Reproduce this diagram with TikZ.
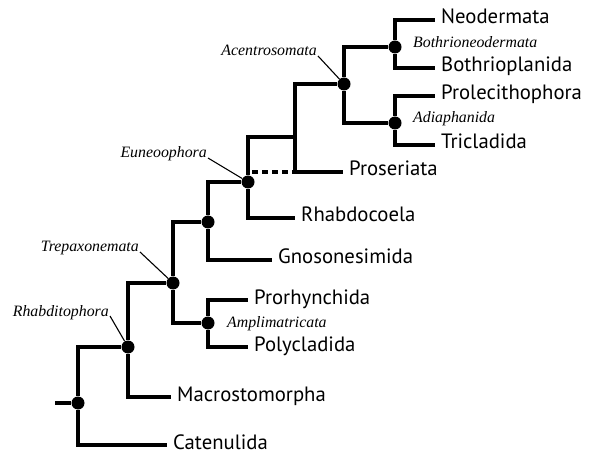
\documentclass[tikz,border=0pt]{standalone}
\usepackage{fontspec}
\setmainfont{Liberation Serif}
\setsansfont{PT Sans}
\begin{document}
\begin{tikzpicture}[x=1bp,y=-1bp,
  branch/.style={line width=3.5bp},
  dashbranch/.style={line width=3.5bp,dash pattern=on 6bp off 4bp},
  leader/.style={line width=1.1bp},
  dot/.style={circle,fill,inner sep=0pt,minimum size=13bp},
  leaf/.style={anchor=west,inner xsep=6bp,inner ysep=0pt,text height=10bp,text depth=2bp,
    font=\sffamily\fontsize{20.8}{20.8}\selectfont},
  clade/.style={inner sep=1bp,font=\itshape\fontsize{15.9}{15.9}\selectfont}]
  \useasboundingbox (0,0) rectangle (595,452);
  \coordinate (stem) at (55,403);
  \node[dot] (root) at (78,403) {};
  \node[dot] (rhab) at (128,347) {};
  \node[dot] (trep) at (173,283) {};
  \node[dot] (ampl) at (208,323) {};
  \node[dot] (rhgn) at (208,222) {};
  \node[dot] (eune) at (248,182) {};
  \coordinate (prac) at (295,137);
  \node[dot] (acen) at (344,84) {};
  \node[dot] (both) at (395,47) {};
  \node[dot] (adia) at (395,123) {};
  \node[leaf] (cate) at (167,445) {Catenulida};
  \node[leaf] (macr) at (171,397) {Macrostomorpha};
  \node[leaf] (pror) at (248,300) {Prorhynchida};
  \node[leaf] (poly) at (248,347) {Polycladida};
  \node[leaf] (gnos) at (272,260) {Gnosonesimida};
  \node[leaf] (rhbd) at (295,218) {Rhabdocoela};
  \node[leaf] (pros) at (343,172) {Proseriata};
  \node[leaf] (neod) at (435,20) {Neodermata};
  \node[leaf] (btpl) at (435,68) {Bothrioplanida};
  \node[leaf] (prol) at (435,96) {Prolecithophora};
  \node[leaf] (tric) at (435,145) {Tricladida};
  \draw[branch] (stem) -- (root);
  \draw[branch] (root) |- (cate);
  \draw[branch] (root) |- (rhab);
  \draw[branch] (rhab) |- (macr);
  \draw[branch] (rhab) |- (trep);
  \draw[branch] (trep) |- (ampl);
  \draw[branch] (trep) |- (rhgn);
  \draw[branch] (ampl) |- (pror);
  \draw[branch] (ampl) |- (poly);
  \draw[branch] (rhgn) |- (gnos);
  \draw[branch] (rhgn) |- (eune);
  \draw[branch] (eune) |- (rhbd);
  \draw[branch] (eune) |- (prac);
  \draw[branch] (prac) |- (acen);
  \draw[branch] (prac) |- (pros);
  \draw[dashbranch] ([xshift=4bp]eune |- pros) -- (prac |- pros);
  \draw[branch] (acen) |- (both);
  \draw[branch] (acen) |- (adia);
  \draw[branch] (both) |- (neod);
  \draw[branch] (both) |- (btpl);
  \draw[branch] (adia) |- (prol);
  \draw[branch] (adia) |- (tric);
  \node[clade,anchor=base east] (rhablab) at (110,316) {Rhabditophora};
  \node[clade,anchor=base east] (treplab) at (140,252) {Trepaxonemata};
  \node[clade,anchor=base east] (eunelab) at (208,158) {Euneoophora};
  \node[clade,anchor=base east] (acenlab) at (318,56) {Acentrosomata};
  \node[clade,anchor=base west] (ampllab) at (226,327) {Amplimatricata};
  \node[clade,anchor=base west] (bothlab) at (412,48) {Bothrioneodermata};
  \node[clade,anchor=base west] (adialab) at (412,123) {Adiaphanida};
  \draw[leader] (rhablab.base east) -- (rhab);
  \draw[leader] (treplab.base east) -- (trep);
  \draw[leader] (eunelab.base east) -- (eune);
  \draw[leader] (acenlab.base east) -- (acen);
\end{tikzpicture}
\end{document}
